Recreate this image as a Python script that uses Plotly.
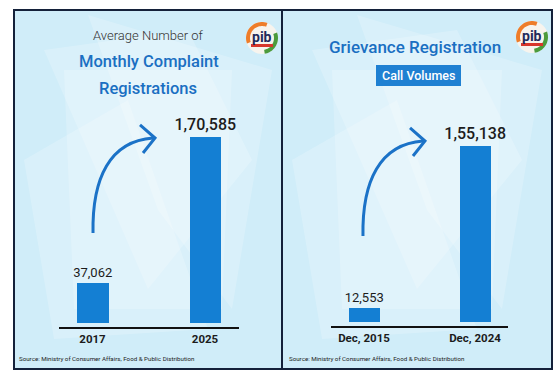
import numpy as np
import plotly.graph_objects as go

# ---------------- data ----------------
left_categories = ["2017", "2025"]
left_values = [37062, 170585]
right_categories = ["Dec, 2015", "Dec, 2024"]
right_values = [12553, 155138]

left_title_top = "Average Number of"
left_title_main = ["Monthly Complaint", "Registrations"]
right_title_main = "Grievance Registration"
right_badge = "Call Volumes"
source_text = "Source: Ministry of Consumer Affairs, Food & Public Distribution"

W, H = 558, 376


def indian_format(n):
    s = str(int(n))
    if len(s) <= 3:
        return s
    last3 = s[-3:]
    rest = s[:-3]
    groups = []
    while len(rest) > 2:
        groups.insert(0, rest[-2:])
        rest = rest[:-2]
    if rest:
        groups.insert(0, rest)
    return ",".join(groups) + "," + last3


def px(x):
    return x / W


def py(y):
    return 1 - y / H


FONT = "Roboto, Noto Sans, sans-serif"
BAR_COLOR = "#147fd3"
BLUE_TEXT = "#1a6fc2"

fig = go.Figure()

for cats, vals, xa, ya in [(left_categories, left_values, "x", "y"),
                           (right_categories, right_values, "x2", "y2")]:
    fig.add_trace(go.Bar(
        x=cats, y=vals, xaxis=xa, yaxis=ya,
        width=0.28, marker=dict(color=BAR_COLOR, line=dict(width=0)),
        text=[indian_format(v) for v in vals], textposition="outside",
        constraintext="none",
        textfont=dict(size=[13, 16], color="#1c1c1c", family=FONT, weight=[400, 500]),
        cliponaxis=False, hoverinfo="skip", showlegend=False,
    ))

shapes = []
annotations = []

# panels
panels = [(14, 10, 282, 369), (282, 10, 552, 369)]
for (x0, y0, x1, y1) in panels:
    shapes.append(dict(type="rect", xref="paper", yref="paper", layer="below",
                       x0=px(x0), x1=px(x1), y0=py(y1), y1=py(y0),
                       fillcolor="#d0edf9", line=dict(width=0)))
    cx = (x0 + x1) / 2
    facets = [
        [(x0 + 30, y0 + 40), (cx + 40, y0 + 20), (x1 - 30, y0 + 150), (cx, y1 - 80)],
        [(x0 + 10, y0 + 150), (cx - 20, y0 + 90), (cx + 60, y1 - 40), (x0 + 40, y1 - 30)],
        [(cx - 60, y0 + 5), (x1 - 10, y0 + 60), (x1 - 50, y1 - 60), (cx + 10, y0 + 200)],
        [(x0 + 50, y0 + 60), (x1 - 50, y0 + 60), (x1 - 60, y1 - 60), (x0 + 60, y1 - 60)],
    ]
    for poly in facets:
        d = "M " + " L ".join(f"{px(a):.4f},{py(b):.4f}" for a, b in poly) + " Z"
        shapes.append(dict(type="path", xref="paper", yref="paper", layer="below",
                           path=d, fillcolor="rgba(255,255,255,0.2)", line=dict(width=0)))
    shapes.append(dict(type="rect", xref="paper", yref="paper", layer="above",
                       x0=px(x0), x1=px(x1), y0=py(y1), y1=py(y0),
                       fillcolor="rgba(0,0,0,0)", line=dict(color="#14213a", width=2)))


def arrow(offx, offy):
    p0 = (93 + offx, 233 + offy)
    p1 = (92 + offx, 178 + offy)
    p2 = (110 + offx, 141 + offy)
    p3 = (153 + offx, 138 + offy)
    d = "M {:.4f},{:.4f} C {:.4f},{:.4f} {:.4f},{:.4f} {:.4f},{:.4f}".format(
        px(p0[0]), py(p0[1]), px(p1[0]), py(p1[1]), px(p2[0]), py(p2[1]), px(p3[0]), py(p3[1]))
    shapes.append(dict(type="path", xref="paper", yref="paper", path=d,
                       line=dict(color="#1b72c7", width=3)))
    a1 = (140 + offx, 125 + offy)
    tip = (155 + offx, 138 + offy)
    a2 = (143 + offx, 153 + offy)
    d2 = "M {:.4f},{:.4f} L {:.4f},{:.4f} L {:.4f},{:.4f}".format(
        px(a1[0]), py(a1[1]), px(tip[0]), py(tip[1]), px(a2[0]), py(a2[1]))
    shapes.append(dict(type="path", xref="paper", yref="paper", path=d2,
                       line=dict(color="#1b72c7", width=3)))


arrow(0, 0)
arrow(270, 3)


def ring(cx, cy, r0, r1, a0, a1):
    t = np.linspace(np.radians(a0), np.radians(a1), 24)
    outer = [(cx + r1 * np.cos(a), cy - r1 * np.sin(a)) for a in t]
    inner = [(cx + r0 * np.cos(a), cy - r0 * np.sin(a)) for a in t[::-1]]
    pts = outer + inner
    return "M " + " L ".join(f"{px(a):.4f},{py(b):.4f}" for a, b in pts) + " Z"


for (lx, ly) in [(262, 38), (532, 37)]:
    shapes.append(dict(type="circle", xref="paper", yref="paper",
                       x0=px(lx - 16), x1=px(lx + 16), y0=py(ly + 16), y1=py(ly - 16),
                       fillcolor="#f7f4ee", line=dict(width=0)))
    shapes.append(dict(type="path", xref="paper", yref="paper", path=ring(lx, ly, 12, 16, 70, 200),
                       fillcolor="#ee7d2a", line=dict(width=0)))
    shapes.append(dict(type="path", xref="paper", yref="paper", path=ring(lx, ly, 12, 16, -80, 20),
                       fillcolor="#4c9b3c", line=dict(width=0)))
    shapes.append(dict(type="rect", xref="paper", yref="paper",
                       x0=px(lx - 11), x1=px(lx + 11), y0=py(ly + 9), y1=py(ly + 6),
                       fillcolor="#d7362b", line=dict(width=0)))
    annotations.append(dict(x=px(lx), y=py(ly - 1), xref="paper", yref="paper", text="<b>pib</b>",
                            showarrow=False, font=dict(size=14, color="#1f2a5a", family=FONT),
                            xanchor="center", yanchor="middle"))

# left titles
annotations.append(dict(x=px(148), y=py(36), xref="paper", yref="paper", text=left_title_top,
                        showarrow=False, xanchor="center", yanchor="middle",
                        font=dict(size=13, color="#333333", family=FONT, weight=300)))
annotations.append(dict(x=px(149), y=py(62), xref="paper", yref="paper", text=left_title_main[0],
                        showarrow=False, xanchor="center", yanchor="middle",
                        font=dict(size=16.5, color=BLUE_TEXT, family=FONT, weight=500)))
annotations.append(dict(x=px(148), y=py(88), xref="paper", yref="paper", text=left_title_main[1],
                        showarrow=False, xanchor="center", yanchor="middle",
                        font=dict(size=16.5, color=BLUE_TEXT, family=FONT, weight=500)))

# right titles
annotations.append(dict(x=px(415), y=py(47), xref="paper", yref="paper", text=right_title_main,
                        showarrow=False, xanchor="center", yanchor="middle",
                        font=dict(size=17, color=BLUE_TEXT, family=FONT, weight=500)))
shapes.append(dict(type="rect", xref="paper", yref="paper",
                   x0=px(376), x1=px(461), y0=py(86), y1=py(65),
                   fillcolor="#1f80d2", line=dict(width=0)))
annotations.append(dict(x=px(418.5), y=py(75.5), xref="paper", yref="paper", text=right_badge,
                        showarrow=False, xanchor="center", yanchor="middle",
                        font=dict(size=12.5, color="white", family=FONT, weight=500)))

# source lines
for sx in (17, 287):
    annotations.append(dict(x=px(sx), y=py(359), xref="paper", yref="paper", text=source_text,
                            showarrow=False, xanchor="left", yanchor="middle",
                            font=dict(size=6.2, color="#222222", family=FONT)))

axis_common = dict(type="category", showline=True, linecolor="#111111", linewidth=2,
                   ticks="", showgrid=False, zeroline=False, fixedrange=True,
                   tickfont=dict(size=11.5, color="#1c1c1c", family=FONT, weight="bold"))

fig.update_layout(
    width=W, height=H, margin=dict(l=0, r=0, t=0, b=0),
    paper_bgcolor="white", plot_bgcolor="rgba(0,0,0,0)",
    bargap=0, showlegend=False,
    xaxis=dict(domain=[px(58.75), px(238.75)], range=[-0.3, 1.3], anchor="y", **axis_common),
    yaxis=dict(domain=[py(327), py(120)], range=[-3668, 186170], visible=False, anchor="x"),
    xaxis2=dict(domain=[px(330.7), px(508.3)], range=[-0.3, 1.3], anchor="y2", **axis_common),
    yaxis2=dict(domain=[py(326), py(120)], range=[-3526, 178054], visible=False, anchor="x2"),
    shapes=shapes, annotations=annotations,
)

fig.write_html("out.html", config={"displayModeBar": False},
               post_script="document.body.style.margin='0';document.body.style.overflow='hidden';")
